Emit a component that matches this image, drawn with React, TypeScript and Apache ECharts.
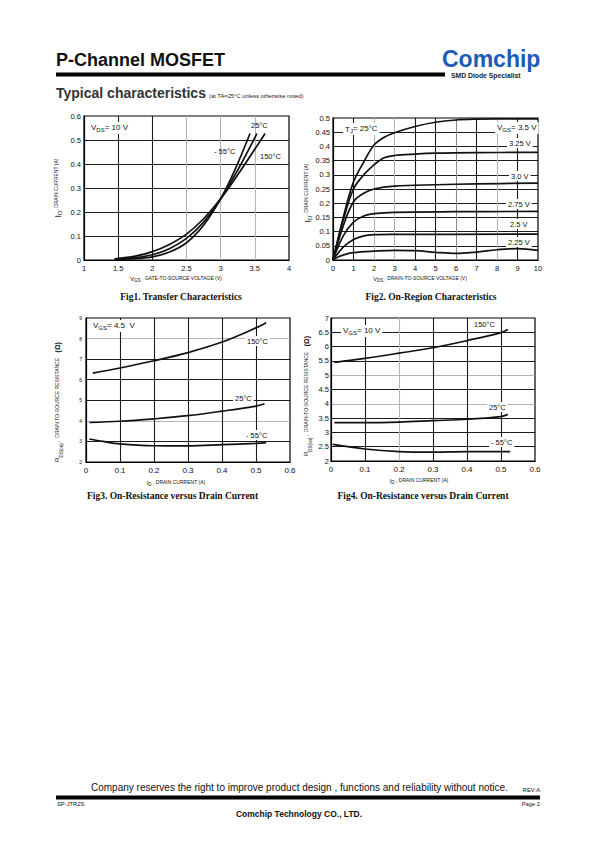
import React, { useEffect, useRef } from "react";
import * as echarts from "echarts";

// ---------- Fig1: Transfer characteristics (VGS [V], ID [A]) ----------
const transferM55: number[][] = [[1.45, 0.003], [1.75, 0.006], [2.0, 0.013], [2.25, 0.033], [2.5, 0.072], [2.75, 0.145], [3.0, 0.255], [3.2, 0.37], [3.43, 0.527]];
const transfer25: number[][] = [[1.45, 0.004], [1.75, 0.01], [2.0, 0.022], [2.25, 0.047], [2.5, 0.09], [2.75, 0.158], [3.0, 0.255], [3.25, 0.375], [3.53, 0.527]];
const transfer150: number[][] = [[1.45, 0.005], [1.75, 0.016], [2.0, 0.035], [2.25, 0.065], [2.5, 0.108], [2.75, 0.172], [3.0, 0.255], [3.25, 0.355], [3.65, 0.527]];

// ---------- Fig2: On-region characteristics (VDS [V], ID [A]) ----------
const onReg350: number[][] = [[0, 0], [0.5, 0.15], [1, 0.275], [1.5, 0.345], [2, 0.405], [2.5, 0.432], [3, 0.448], [4, 0.47], [5, 0.485], [6, 0.493], [7, 0.496], [8, 0.497], [10, 0.497]];
const onReg325: number[][] = [[0, 0], [0.5, 0.14], [1, 0.25], [1.5, 0.3], [2, 0.335], [2.5, 0.36], [3, 0.368], [4, 0.373], [5, 0.376], [7, 0.378], [10, 0.379]];
const onReg300: number[][] = [[0, 0], [0.5, 0.12], [1, 0.205], [1.5, 0.235], [2, 0.25], [3, 0.26], [5, 0.265], [7, 0.268], [10, 0.271]];
const onReg275: number[][] = [[0, 0], [0.5, 0.085], [1, 0.133], [1.5, 0.155], [2, 0.163], [3, 0.168], [6, 0.17], [10, 0.171]];
const onReg250: number[][] = [[0, 0], [0.5, 0.045], [1, 0.072], [1.5, 0.085], [2, 0.089], [3, 0.09], [10, 0.091]];
const onReg225: number[][] = [[0, 0], [0.3, 0.012], [0.6, 0.02], [1, 0.026], [2, 0.031], [3, 0.034], [4, 0.033], [5, 0.027], [6, 0.023], [7, 0.028], [8, 0.036], [9, 0.04], [10, 0.034]];

// ---------- Fig3: RDS(on) vs ID, VGS = 4.5 V ----------
const rds45_150: number[][] = [[0.02, 6.32], [0.1, 6.57], [0.2, 6.92], [0.3, 7.32], [0.4, 7.83], [0.5, 8.52], [0.53, 8.77]];
const rds45_25: number[][] = [[0.01, 3.92], [0.1, 3.98], [0.2, 4.1], [0.3, 4.25], [0.4, 4.47], [0.5, 4.72], [0.525, 4.83]];
const rds45_m55: number[][] = [[0.01, 3.12], [0.05, 3.0], [0.1, 2.88], [0.2, 2.79], [0.3, 2.78], [0.4, 2.84], [0.5, 2.91], [0.53, 2.94]];

// ---------- Fig4: RDS(on) vs ID, VGS = 10 V ----------
const rds10_150: number[][] = [[0.01, 5.45], [0.1, 5.59], [0.2, 5.77], [0.3, 5.96], [0.4, 6.21], [0.5, 6.49], [0.52, 6.6]];
const rds10_25: number[][] = [[0.01, 3.34], [0.1, 3.34], [0.2, 3.36], [0.3, 3.41], [0.4, 3.46], [0.5, 3.55], [0.52, 3.63]];
const rds10_m55: number[][] = [[0.005, 2.58], [0.1, 2.42], [0.2, 2.33], [0.3, 2.31], [0.4, 2.33], [0.5, 2.33], [0.527, 2.33]];

const FONT = "'Liberation Sans', Arial, Helvetica, sans-serif";
const SERIF = "'Liberation Serif', 'Times New Roman', serif";
const DARK = "#1c1c1c";
const GRAY = "#b4b4b4";
const MID = "#8a8a8a";

const grids = [
  { left: 84, top: 116, width: 205, height: 144 },
  { left: 333, top: 118, width: 205, height: 142 },
  { left: 86, top: 318, width: 204, height: 144 },
  { left: 331, top: 318, width: 204, height: 143 },
].map((g) => ({ ...g, show: true, borderColor: "#000", borderWidth: 1.2, backgroundColor: "transparent" }));

function axis(gridIndex: number, min: number, max: number, interval: number, colors: string[], fontSize: number, margin: number) {
  return {
    type: "value",
    gridIndex,
    min,
    max,
    interval,
    axisLine: { show: true, onZero: false, lineStyle: { color: "#000", width: 1.2 } },
    axisTick: { show: false },
    axisLabel: { fontFamily: FONT, fontSize, color: "#111", margin },
    splitLine: { show: true, showMinLine: false, showMaxLine: false, lineStyle: { color: colors, width: 1.1 } },
  };
}

const xAxes = [
  axis(0, 1, 4, 0.5, [DARK, DARK, GRAY, GRAY, GRAY], 7.5, 4),
  axis(1, 0, 10, 1, [DARK, GRAY, GRAY, DARK, DARK, MID, DARK, GRAY, DARK], 7.5, 4),
  axis(2, 0, 0.6, 0.1, [DARK, DARK, DARK, DARK, DARK], 8, 4),
  axis(3, 0, 0.6, 0.1, [DARK, GRAY, DARK, DARK, DARK], 8, 4),
];
const yAxes = [
  axis(0, 0, 0.6, 0.1, [DARK, DARK, DARK, DARK, DARK], 7.5, 3),
  axis(1, 0, 0.5, 0.05, [DARK, DARK, DARK, DARK, DARK, DARK, DARK, DARK, DARK], 7.5, 3),
  axis(2, 2, 9, 1, [DARK, GRAY, DARK, DARK, DARK, GRAY], 5, 4),
  axis(3, 2, 7, 0.5, [DARK, DARK, DARK, GRAY, DARK, GRAY, DARK, DARK, DARK], 7.5, 2),
];

function curve(name: string, data: number[][], gi: number) {
  return {
    type: "line",
    name,
    data,
    xAxisIndex: gi,
    yAxisIndex: gi,
    smooth: 0.35,
    showSymbol: false,
    symbol: "none",
    lineStyle: { color: "#111", width: 1.7 },
    z: 3,
  };
}

const series = [
  curve("-55°C", transferM55, 0),
  curve("25°C", transfer25, 0),
  curve("150°C", transfer150, 0),
  curve("3.5 V", onReg350, 1),
  curve("3.25 V", onReg325, 1),
  curve("3.0 V", onReg300, 1),
  curve("2.75 V", onReg275, 1),
  curve("2.5 V", onReg250, 1),
  curve("2.25 V", onReg225, 1),
  curve("150°C", rds45_150, 2),
  curve("25°C", rds45_25, 2),
  curve("-55°C", rds45_m55, 2),
  curve("150°C", rds10_150, 3),
  curve("25°C", rds10_25, 3),
  curve("-55°C", rds10_m55, 3),
];

const richSub = {
  m: { fontFamily: FONT, fontSize: 8, lineHeight: 10, verticalAlign: "top", fill: "#111" },
  s: { fontFamily: FONT, fontSize: 6, lineHeight: 6, verticalAlign: "bottom", fill: "#111" },
};

function T(x: number, y: number, text: string, o: any = {}) {
  return {
    type: "text",
    x,
    y,
    z: 5,
    silent: true,
    style: {
      text,
      fill: "#111",
      fontFamily: FONT,
      fontSize: 7.5,
      align: "left",
      textAlign: "left",
      verticalAlign: "middle",
      textVerticalAlign: "middle",
      ...o,
    },
  };
}
function L(x: number, y: number, text: string, o: any = {}) {
  return T(x, y, text, { backgroundColor: "#fff", padding: [1, 2, 1, 2], ...o });
}

const nameRich = {
  b: { fontFamily: FONT, fontSize: 9, lineHeight: 10, verticalAlign: "top", fill: "#111" },
  bs: { fontFamily: FONT, fontSize: 6, lineHeight: 6, verticalAlign: "bottom", fill: "#111" },
  n: { fontFamily: FONT, fontSize: 5, lineHeight: 10, verticalAlign: "top", fill: "#111" },
  v: { fontFamily: FONT, fontSize: 5.6, lineHeight: 7, verticalAlign: "top", fill: "#111" },
  vs: { fontFamily: FONT, fontSize: 4.5, lineHeight: 4, verticalAlign: "bottom", fill: "#111" },
  w: { fontFamily: FONT, fontSize: 5, lineHeight: 7, verticalAlign: "top", fill: "#111" },
  o: { fontFamily: FONT, fontSize: 7, fontWeight: "bold", lineHeight: 10, verticalAlign: "top", fill: "#111" },
  r: { fontFamily: FONT, fontSize: 6, lineHeight: 10, verticalAlign: "top", fill: "#111" },
  rs: { fontFamily: FONT, fontSize: 4.5, lineHeight: 5, verticalAlign: "bottom", fill: "#111" },
};

function YName(x: number, y: number, text: string) {
  return {
    type: "text",
    x,
    y,
    rotation: Math.PI / 2,
    z: 5,
    silent: true,
    style: { text, rich: nameRich, align: "center", textAlign: "center", verticalAlign: "middle", textVerticalAlign: "middle", fill: "#111" },
  };
}
function XName(x: number, y: number, text: string) {
  return {
    type: "text",
    x,
    y,
    z: 5,
    silent: true,
    style: { text, rich: nameRich, align: "center", textAlign: "center", verticalAlign: "middle", textVerticalAlign: "middle", fill: "#111" },
  };
}
function FigTitle(x: number, y: number, text: string) {
  return T(x, y, text, { fontFamily: SERIF, fontWeight: "bold", fontSize: 9.5, align: "center", textAlign: "center" });
}

const graphics: any[] = [
  // header
  T(56, 60, "P-Channel MOSFET", { fontSize: 18, fontWeight: "bold", fill: "#111" }),
  { type: "rect", shape: { x: 56, y: 72.5, width: 389, height: 4 }, style: { fill: "#000" }, silent: true },
  T(442, 59, "Comchip", { fontSize: 23, fontWeight: "bold", fill: "#1d5cb6", fontFamily: FONT }),
  T(451, 75.5, "SMD Diode Specialist", { fontSize: 6.8, fontWeight: "bold", fill: "#222" }),
  T(56, 93, "Typical characteristics", { fontSize: 14, fontWeight: "bold", fill: "#333" }),
  T(209, 96, "(at TA=25°C unless otherwise noted)", { fontSize: 5.8, fill: "#222" }),

  // Fig1 labels
  L(89, 128, "{m|V}{s|DS}{m|= 10 V}", { rich: richSub }),
  T(251, 125, "25°C"),
  T(214, 151, "- 55°C"),
  T(260, 156, "150°C"),
  YName(58, 188, "{b|I}{bs|D}{n|, DRAIN CURRENT (A)}"),
  XName(176, 279, "{v|V}{vs|GS}{w| , GATE-TO-SOURCE VOLTAGE (V)}"),
  FigTitle(181, 297, "Fig1. Transfer Characteristics"),

  // Fig2 labels
  L(343, 129, "T{s|J}{m|= 25°C}", { rich: richSub, fontSize: 8 }),
  L(495, 128, "{m|V}{s|GS}{m|= 3.5 V}", { rich: richSub }),
  L(507, 143, "3.25 V"),
  L(509, 176, "3.0 V"),
  L(506, 204, "2.75 V"),
  L(508, 224, "2.5 V"),
  L(506, 242, "2.25 V"),
  YName(308, 193, "{b|I}{bs|D}{n|, DRAIN CURRENT (A)}"),
  XName(420, 279, "{v|V}{vs|DS}{w| , DRAIN-TO-SOURCE VOLTAGE (V)}"),
  FigTitle(431, 297, "Fig2. On-Region Characteristics"),

  // Fig3 labels
  L(91, 326, "{m|V}{s|GS}{m|= 4.5  V}", { rich: richSub }),
  L(245, 341, "150°C"),
  L(233, 398, "25°C"),
  L(244, 435, "- 55°C"),
  YName(59, 402, "{r|R}{rs|DS(on)}{n| ,  DRAIN TO-SOURCE RESISTANCE    }{o|(Ω)}"),
  XName(176, 483, "{v|I}{vs|D}{w| , DRAIN CURRENT (A)}"),
  FigTitle(172.5, 496, "Fig3. On-Resistance versus Drain Current"),

  // Fig4 labels
  L(341, 331, "{m|V}{s|GS}{m|= 10 V}", { rich: richSub }),
  T(474, 324, "150°C"),
  L(487, 407, "25°C"),
  L(489, 442, "- 55°C"),
  YName(308, 396, "{r|R}{rs|DS(on)}{n| ,  DRAIN-TO-SOURCE RESISTANCE    }{o|(Ω)}"),
  XName(419, 481, "{v|I}{vs|D}{w| , DRAIN CURRENT (A)}"),
  FigTitle(423, 496, "Fig4. On-Resistance versus Drain Current"),

  // footer
  T(91, 787, "Company reserves the right to improve product design , functions and reliability without notice.", { fontSize: 10, fill: "#111" }),
  T(540, 790, "REV:A", { fontSize: 5.8, align: "right", textAlign: "right" }),
  { type: "rect", shape: { x: 56, y: 795.5, width: 484, height: 4 }, style: { fill: "#000" }, silent: true },
  T(57, 803.5, "SP-JTR2S", { fontSize: 5.8 }),
  T(540, 803.5, "Page 2", { fontSize: 5.8, align: "right", textAlign: "right" }),
  T(299, 814, "Comchip Technology CO., LTD.", { fontSize: 8.5, fontWeight: "bold", align: "center", textAlign: "center" }),
];

export default function App() {
  const ref = useRef<HTMLDivElement>(null);
  useEffect(() => {
    document.body.style.margin = "0";
    const chart = echarts.init(ref.current!, null, { renderer: "svg", width: 595, height: 842 });
    chart.setOption({
      animation: false,
      backgroundColor: "#fff",
      grid: grids,
      xAxis: xAxes,
      yAxis: yAxes,
      series,
      graphic: { elements: graphics },
    });
    return () => chart.dispose();
  }, []);
  return <div ref={ref} style={{ width: 595, height: 842, background: "#fff" }} />;
}
